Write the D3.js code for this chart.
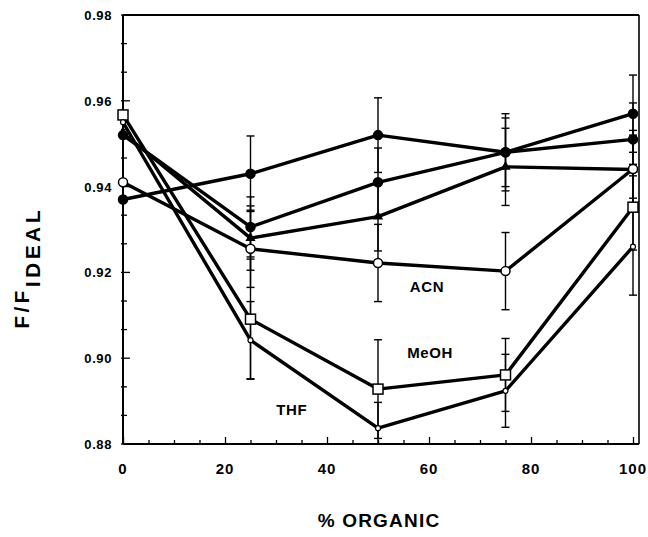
<!DOCTYPE html>
<html>
<head>
<meta charset="utf-8">
<script src="https://cdn.jsdelivr.net/npm/d3@7"></script>
<style>
  html, body { margin: 0; padding: 0; background: #fff; }
  svg { display: block; }
  text { font-family: "Liberation Sans", Arial, Helvetica, sans-serif; font-weight: bold; fill: #000; }
</style>
</head>
<body>
<svg id="chart" width="648" height="537"></svg>
<script>
// Percent organic modifier in the mobile phase
const organic = [0, 25, 50, 75, 100];

// F/F(ideal) ratios per series, with ± error at each composition
const seriesA = [0.937, 0.943, 0.952, 0.948, 0.957];
const errA    = [0, 0.0088, 0.0087, 0.009, 0.009];
const seriesB = [0.952, 0.9306, 0.941, 0.948, 0.951];
const errB    = [0, 0.007, 0.008, 0.008, 0.0085];
const seriesC = [0.9525, 0.928, 0.933, 0.9446, 0.944];
const errC    = [0, 0.0075, 0.008, 0.009, 0.008];
const acn     = [0.941, 0.9255, 0.9222, 0.9203, 0.9441];
const errAcn  = [0, 0.009, 0.009, 0.009, 0.009];
const meoh    = [0.9567, 0.9091, 0.8928, 0.8961, 0.9352];
const errMeoh = [0, 0.014, 0.0115, 0.0085, 0.01];
const thf     = [0.955, 0.9042, 0.8837, 0.8924, 0.926];
const errThf  = [0, 0.009, 0.006, 0.0085, 0.0113];

const xTicks = [0, 20, 40, 60, 80, 100];
const yTicks = [0.88, 0.90, 0.92, 0.94, 0.96, 0.98];

// Solvent labels placed in data units
const labelNames = ["ACN", "MeOH", "THF"];
const labelX     = [59.6, 60.2, 33.1];
const labelY     = [0.9168, 0.9014, 0.8882];

const seriesList = [
  { values: seriesA, err: errA,    marker: "circle",   filled: true },
  { values: seriesB, err: errB,    marker: "circle",   filled: true },
  { values: seriesC, err: errC,    marker: "triangle", filled: true },
  { values: acn,     err: errAcn,  marker: "circle",   filled: false },
  { values: meoh,    err: errMeoh, marker: "square",   filled: false },
  { values: thf,     err: errThf,  marker: "small",    filled: false }
];

const svg = d3.select("#chart");
const plotLeft = 123, plotRight = 633, plotTop = 15, plotBottom = 444, frameRight = 639;

const x = d3.scaleLinear().domain([0, 100]).range([plotLeft, plotRight]);
const y = d3.scaleLinear().domain([0.88, 0.98]).range([plotBottom, plotTop]);

// Frame lines (top and right)
svg.append("line").attr("x1", plotLeft).attr("x2", frameRight).attr("y1", plotTop).attr("y2", plotTop)
  .attr("stroke", "#000").attr("stroke-width", 2);
svg.append("line").attr("x1", frameRight).attr("x2", frameRight).attr("y1", plotTop).attr("y2", plotBottom)
  .attr("stroke", "#000").attr("stroke-width", 1.6);

// X axis with inward ticks
const xAxis = svg.append("g").attr("transform", `translate(0,${plotBottom})`)
  .call(d3.axisBottom(x).tickValues(d3.range(0, 101, 5)).tickSize(-5).tickFormat(""));
xAxis.select(".domain").remove();
xAxis.selectAll(".tick line").attr("stroke-width", 1.3)
  .attr("y2", d => (d % 20 === 0 ? -7 : -4));
svg.append("line").attr("x1", plotLeft).attr("x2", frameRight).attr("y1", plotBottom).attr("y2", plotBottom)
  .attr("stroke", "#000").attr("stroke-width", 2);
svg.append("g").selectAll("text").data(xTicks).join("text")
  .attr("x", d => x(d)).attr("y", plotBottom + 30).attr("text-anchor", "middle")
  .attr("font-size", 15).attr("letter-spacing", 1).text(d => d);

// Y axis with inward ticks (minor every third of a major step)
const yMinor = d3.range(0, 16).map(i => 0.88 + i * 0.02 / 3);
svg.append("g").selectAll("line").data(yMinor).join("line")
  .attr("x1", plotLeft - 2).attr("x2", (d, i) => plotLeft + (i % 3 === 0 ? 7 : 4))
  .attr("y1", d => y(d)).attr("y2", d => y(d))
  .attr("stroke", "#000").attr("stroke-width", 1.3);
svg.append("line").attr("x1", plotLeft).attr("x2", plotLeft).attr("y1", plotTop).attr("y2", plotBottom)
  .attr("stroke", "#000").attr("stroke-width", 2);
svg.append("g").selectAll("text").data(yTicks).join("text")
  .attr("x", plotLeft - 11).attr("y", d => y(d) + 5).attr("text-anchor", "end")
  .attr("font-size", 13).attr("letter-spacing", 0.6).text(d => d.toFixed(2));

// Axis titles
svg.append("text").attr("x", 379).attr("y", 527).attr("text-anchor", "middle")
  .attr("font-size", 19).attr("letter-spacing", 1.2).text("% ORGANIC");
const yTitle = svg.append("text").attr("transform", "translate(29,268) rotate(-90)")
  .attr("text-anchor", "middle").attr("font-size", 21).attr("letter-spacing", 3.4);
yTitle.append("tspan").text("F/F");
yTitle.append("tspan").attr("dy", 11).text("IDEAL");

// Error bars
const cap = 4;
const eb = svg.append("g").attr("stroke", "#000").attr("stroke-width", 1.4);
seriesList.forEach(s => {
  organic.forEach((o, i) => {
    const e = s.err[i];
    if (!e) return;
    const cx = x(o), y1 = y(s.values[i] + e), y2 = y(Math.max(s.values[i] - e, 0.88));
    eb.append("line").attr("x1", cx).attr("x2", cx).attr("y1", y1).attr("y2", y2);
    eb.append("line").attr("x1", cx - cap).attr("x2", cx + cap).attr("y1", y1).attr("y2", y1);
    if (s.values[i] - e >= 0.88)
      eb.append("line").attr("x1", cx - cap).attr("x2", cx + cap).attr("y1", y2).attr("y2", y2);
  });
});

// Series lines
const line = d3.line().x((d, i) => x(organic[i])).y(d => y(d));
svg.append("g").selectAll("path").data(seriesList).join("path")
  .attr("d", s => line(s.values)).attr("fill", "none")
  .attr("stroke", "#000").attr("stroke-width", 3.4).attr("stroke-linejoin", "round");

// Markers
const mk = svg.append("g");
seriesList.forEach(s => {
  s.values.forEach((v, i) => {
    const cx = x(organic[i]), cy = y(v);
    const fill = s.filled ? "#000" : "#fff";
    if (s.marker === "circle") {
      mk.append("circle").attr("cx", cx).attr("cy", cy).attr("r", 4.5)
        .attr("fill", fill).attr("stroke", "#000").attr("stroke-width", 1.5);
    } else if (s.marker === "triangle") {
      mk.append("path").attr("d", d3.symbol(d3.symbolTriangle, 45)())
        .attr("transform", `translate(${cx},${cy})`).attr("fill", "#000");
    } else if (s.marker === "square") {
      mk.append("rect").attr("x", cx - 5).attr("y", cy - 5).attr("width", 10).attr("height", 10)
        .attr("fill", fill).attr("stroke", "#000").attr("stroke-width", 1.5);
    } else {
      mk.append("circle").attr("cx", cx).attr("cy", cy).attr("r", 2.5)
        .attr("fill", fill).attr("stroke", "#000").attr("stroke-width", 1.2);
    }
  });
});

// Solvent labels
svg.append("g").selectAll("text").data(labelNames).join("text")
  .attr("x", (d, i) => x(labelX[i])).attr("y", (d, i) => y(labelY[i]) + 6)
  .attr("text-anchor", "middle").attr("font-size", 15).attr("letter-spacing", 0.6)
  .text(d => d);
</script>
</body>
</html>
